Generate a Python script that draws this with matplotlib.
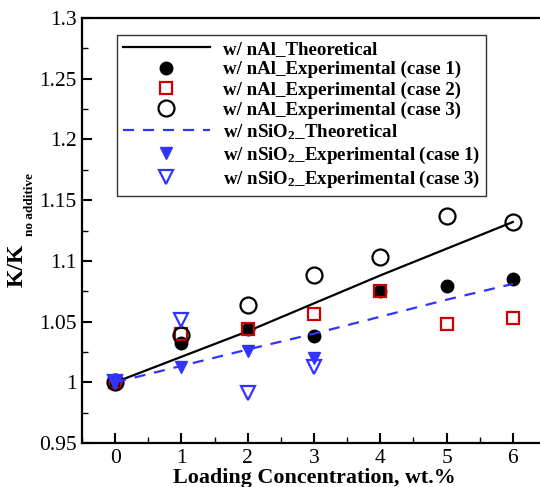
import numpy as np
import matplotlib.pyplot as plt
from matplotlib.ticker import MultipleLocator

# fuentes tipo Times
plt.rcParams['font.family'] = ['Liberation Serif', 'DejaVu Serif']
plt.rcParams['mathtext.fontset'] = 'custom'
plt.rcParams['mathtext.rm'] = 'Liberation Serif'
plt.rcParams['mathtext.bf'] = 'Liberation Serif:bold'
plt.rcParams['mathtext.it'] = 'Liberation Serif:italic'

# datos
x = [0, 1, 2, 3, 4, 5, 6]
al_teo = [1.0, 1.021, 1.042, 1.065, 1.088, 1.110, 1.132]
al_exp1 = [1.0, 1.032, 1.044, 1.038, 1.075, 1.079, 1.085]
al_exp2 = [1.0, 1.040, 1.044, 1.056, 1.075, 1.048, 1.053]
al_exp3 = [1.0, 1.039, 1.064, 1.088, 1.103, 1.137, 1.132]
si_teo = [1.0, 1.0135, 1.027, 1.040, 1.054, 1.068, 1.081]
x_si = [0, 1, 2, 3]
si_exp1 = [1.0, 1.013, 1.026, 1.020]
si_exp3 = [1.0, 1.051, 0.991, 1.013]

azul = '#3333ff'
rojo = '#d00000'

W, H = 540, 487
fig = plt.figure(figsize=(W/100, H/100), dpi=100)
ax = fig.add_axes([82/W, 1-443/H, 464/W, 425/H])

ax.plot(x, al_teo, color='black', lw=1.6, label='w/ nAl_Theoretical')
ax.plot(x, al_exp1, 'o', color='black', ms=9, label='w/ nAl_Experimental (case 1)')
ax.plot(x, al_exp2, 's', mfc='none', mec=rojo, mew=1.6, ms=8.5,
        label='w/ nAl_Experimental (case 2)')
ax.plot(x, al_exp3, 'o', mfc='none', mec='black', mew=1.6, ms=11.5,
        label='w/ nAl_Experimental (case 3)')
ax.plot(x, si_teo, '--', color=azul, lw=1.6, dashes=(5, 4),
        label=r'w/ nSiO$_\mathbf{2}$_Theoretical')
ax.plot(x_si, si_exp1, 'v', color=azul, ms=9,
        label=r'w/ nSiO$_\mathbf{2}$_Experimental (case 1)')
ax.plot(x_si, si_exp3, 'v', mfc='none', mec=azul, mew=1.6, ms=10,
        label=r'w/ nSiO$_\mathbf{2}$_Experimental (case 3)')

ax.set_xlim(-0.5, 6.5)
ax.set_ylim(0.95, 1.3)
ax.xaxis.set_major_locator(MultipleLocator(1))
ax.xaxis.set_minor_locator(MultipleLocator(0.5))
ax.yaxis.set_minor_locator(MultipleLocator(0.025))
ax.set_yticks([0.95, 1.0, 1.05, 1.1, 1.15, 1.2, 1.25, 1.3])
ax.set_yticklabels(['0.95', '1', '1.05', '1.1', '1.15', '1.2', '1.25', '1.3'])
ax.tick_params(which='major', direction='in', length=7, width=1.5, labelsize=15.5, pad=4)
ax.tick_params(which='minor', direction='in', length=4, width=1)
for s in ax.spines.values():
    s.set_linewidth(1.6)

ax.set_xlabel('Loading Concentration, wt.%', fontsize=15.8, fontweight='bold', labelpad=0)

# etiqueta y: K/K con subindice pequeño
fig.text(17.5/W, 1-265/H, 'K/K', rotation=90, ha='center', va='center',
         fontsize=17, fontweight='bold')
fig.text(30/W, 1-204/H, 'no additive', rotation=90, ha='center', va='center',
         fontsize=9.5, fontweight='bold')

leg = ax.legend(loc='upper left', bbox_to_anchor=(35/464, 1-17/425), borderaxespad=0,
                prop={'weight': 'bold', 'size': 13.6}, handlelength=4.6,
                handletextpad=0.7, labelspacing=0.16, fancybox=False,
                edgecolor='#333333', framealpha=1, numpoints=1, borderpad=0.3)
leg.get_frame().set_linewidth(1.0)

plt.savefig('out.png', dpi=100)
